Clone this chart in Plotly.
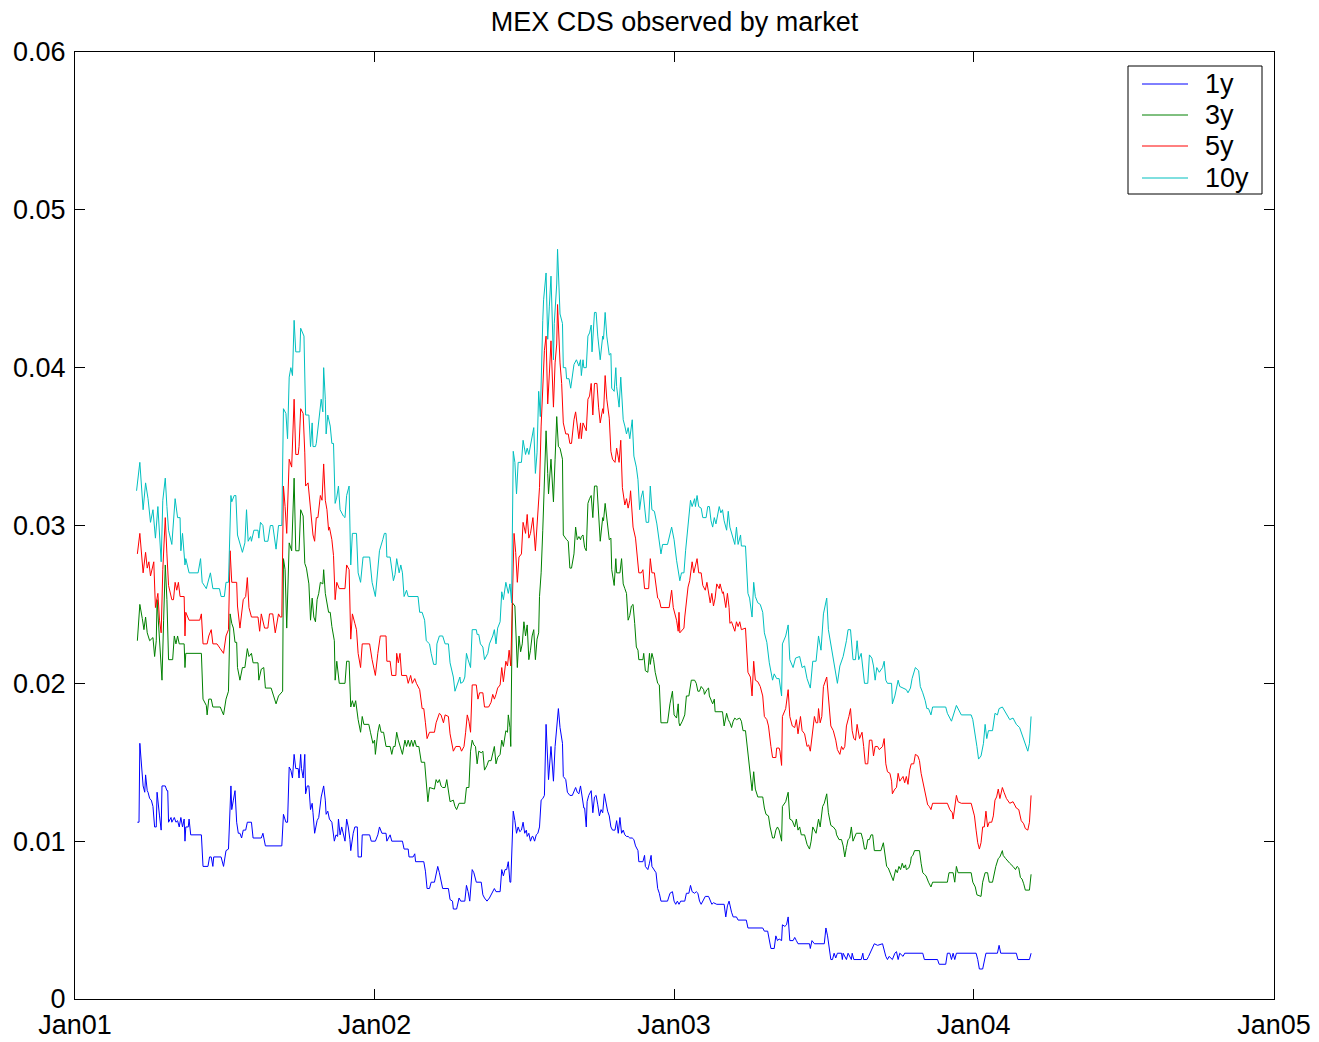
import pandas as pd
import plotly.graph_objects as go

# Observed MEX CDS spreads: (days since 2001-01-01, spread) for each tenor
base_date = "2001-01-01"

cds_1y = [
    (76, 0.0112), (78, 0.0112), (79, 0.0162), (81, 0.0151), (83, 0.0135), (85, 0.0131), (86, 0.0142),
    (88, 0.0132), (89, 0.0131), (91, 0.0127), (93, 0.0126), (95, 0.0122), (97, 0.0109), (99, 0.0109),
    (100, 0.0131), (103, 0.0116), (105, 0.0107), (106, 0.0135), (110, 0.0135), (112, 0.0132), (113, 0.0132),
    (114, 0.0112), (117, 0.0115), (118, 0.0112), (121, 0.0115), (123, 0.0112), (125, 0.0113), (127, 0.0109),
    (129, 0.0115), (131, 0.0109), (133, 0.0114), (134, 0.0100), (135, 0.0109), (138, 0.0109), (139, 0.0114),
    (141, 0.0104), (154, 0.0104), (156, 0.0084), (162, 0.0084), (164, 0.0090), (166, 0.0090), (168, 0.0084),
    (169, 0.0090), (178, 0.0090), (181, 0.0084), (184, 0.0094), (187, 0.0095), (190, 0.0135), (191, 0.0120),
    (193, 0.0126), (195, 0.0132), (197, 0.0112), (199, 0.0105), (201, 0.0105), (203, 0.0102), (205, 0.0107),
    (208, 0.0107), (210, 0.0112), (215, 0.0112), (217, 0.0102), (227, 0.0102), (229, 0.0105), (232, 0.0097),
    (252, 0.0097), (254, 0.0117), (257, 0.0112), (259, 0.0112), (261, 0.0147), (263, 0.0145), (265, 0.0140),
    (267, 0.0155), (269, 0.0146), (272, 0.0146), (273, 0.0140), (275, 0.0155), (276, 0.0146), (278, 0.0140),
    (280, 0.0155), (281, 0.0130), (283, 0.0135), (285, 0.0135), (287, 0.0120), (289, 0.0124), (290, 0.0118),
    (292, 0.0105), (295, 0.0113), (297, 0.0115), (300, 0.0128), (302, 0.0132), (303, 0.0135), (305, 0.0126),
    (306, 0.0117), (308, 0.0119), (310, 0.0114), (313, 0.0112), (315, 0.0105), (316, 0.0100), (318, 0.0104),
    (320, 0.0103), (321, 0.0114), (323, 0.0104), (325, 0.0109), (327, 0.0104), (329, 0.0100), (331, 0.0114),
    (333, 0.0109), (335, 0.0101), (336, 0.0094), (339, 0.0105), (341, 0.0109), (344, 0.0109), (345, 0.0090),
    (349, 0.0090), (350, 0.0104), (359, 0.0104), (361, 0.0100), (366, 0.0100), (369, 0.0104), (371, 0.0109),
    (374, 0.0105), (379, 0.0105), (380, 0.0100), (384, 0.0104), (386, 0.0100), (399, 0.0100), (401, 0.0095),
    (406, 0.0095), (407, 0.0090), (412, 0.0090), (414, 0.0092), (415, 0.0087), (425, 0.0087), (427, 0.0081),
    (429, 0.0070), (432, 0.0070), (434, 0.0074), (438, 0.0074), (440, 0.0080), (442, 0.0084), (444, 0.0080),
    (446, 0.0075), (448, 0.0070), (455, 0.0070), (457, 0.0063), (460, 0.0062), (461, 0.0057), (465, 0.0057),
    (467, 0.0062), (468, 0.0064), (470, 0.0062), (475, 0.0062), (477, 0.0072), (479, 0.0068), (481, 0.0062),
    (483, 0.0078), (484, 0.0082), (486, 0.0080), (489, 0.0074), (495, 0.0074), (497, 0.0066), (499, 0.0064),
    (502, 0.0062), (505, 0.0064), (507, 0.0066), (511, 0.0070), (513, 0.0068), (518, 0.0068), (520, 0.0082),
    (522, 0.0078), (524, 0.0082), (526, 0.0082), (528, 0.0087), (530, 0.0074), (531, 0.0074), (534, 0.0119),
    (536, 0.0113), (538, 0.0105), (540, 0.0109), (542, 0.0106), (544, 0.0107), (546, 0.0112), (548, 0.0105),
    (550, 0.0107), (551, 0.0103), (553, 0.0105), (555, 0.0100), (557, 0.0103), (558, 0.0103), (560, 0.0100),
    (562, 0.0104), (564, 0.0105), (566, 0.0109), (568, 0.0126), (570, 0.0127), (572, 0.0129), (574, 0.0174),
    (576, 0.0147), (577, 0.0139), (580, 0.0160), (583, 0.0138), (585, 0.0160), (587, 0.0173), (589, 0.0184),
    (591, 0.0172), (594, 0.0162), (595, 0.0141), (598, 0.0139), (600, 0.0131), (603, 0.0129), (606, 0.0129),
    (608, 0.0131), (610, 0.0134), (612, 0.0131), (614, 0.0130), (616, 0.0135), (619, 0.0125), (620, 0.0121),
    (621, 0.0121), (623, 0.0109), (624, 0.0125), (626, 0.0129), (629, 0.0132), (631, 0.0118), (633, 0.0128),
    (635, 0.0129), (637, 0.0123), (639, 0.0116), (641, 0.0120), (643, 0.0118), (645, 0.0130), (647, 0.0124),
    (649, 0.0119), (651, 0.0116), (653, 0.0109), (655, 0.0107), (658, 0.0107), (660, 0.0113), (662, 0.0105),
    (664, 0.0115), (666, 0.0105), (668, 0.0107), (670, 0.0104), (672, 0.0103), (674, 0.0103), (676, 0.0102),
    (679, 0.0102), (681, 0.0101), (683, 0.0097), (686, 0.0094), (687, 0.0087), (692, 0.0087), (694, 0.0091),
    (695, 0.0084), (698, 0.0082), (700, 0.0086), (702, 0.0091), (703, 0.0084), (706, 0.0082), (708, 0.0080),
    (710, 0.0070), (712, 0.0067), (714, 0.0062), (722, 0.0062), (725, 0.0067), (728, 0.0068), (730, 0.0062),
    (732, 0.0060), (734, 0.0062), (736, 0.0060), (738, 0.0062), (743, 0.0062), (745, 0.0067), (748, 0.0067),
    (750, 0.0072), (752, 0.0068), (755, 0.0067), (757, 0.0068), (759, 0.0067), (761, 0.0062), (763, 0.0060),
    (765, 0.0062), (768, 0.0065), (772, 0.0065), (774, 0.0062), (776, 0.0060), (778, 0.0061), (782, 0.0060),
    (791, 0.0060), (793, 0.0052), (795, 0.0059), (797, 0.0062), (800, 0.0055), (802, 0.0052), (806, 0.0052),
    (808, 0.0050), (818, 0.0050), (820, 0.0045), (838, 0.0045), (840, 0.0043), (844, 0.0043), (846, 0.0037),
    (848, 0.0032), (852, 0.0032), (854, 0.0040), (856, 0.0037), (858, 0.0038), (861, 0.0037), (862, 0.0047),
    (865, 0.0046), (867, 0.0047), (869, 0.0052), (871, 0.0037), (875, 0.0037), (877, 0.0039), (879, 0.0037),
    (881, 0.0035), (895, 0.0035), (896, 0.0032), (898, 0.0037), (901, 0.0035), (913, 0.0035), (915, 0.0045),
    (917, 0.0040), (919, 0.0032), (921, 0.0025), (923, 0.0025), (925, 0.0029), (927, 0.0026), (929, 0.0029),
    (934, 0.0029), (935, 0.0025), (936, 0.0029), (940, 0.0025), (942, 0.0029), (946, 0.0025), (947, 0.0029),
    (949, 0.0025), (958, 0.0025), (960, 0.0029), (961, 0.0025), (965, 0.0025), (967, 0.0027), (970, 0.0030),
    (972, 0.0032), (974, 0.0035), (978, 0.0034), (984, 0.0035), (988, 0.0027), (990, 0.0025), (992, 0.0027),
    (996, 0.0025), (999, 0.0029), (1001, 0.0030), (1003, 0.0025), (1005, 0.0029), (1009, 0.0027),
    (1011, 0.0029), (1033, 0.0029), (1035, 0.0025), (1051, 0.0025), (1053, 0.0022), (1061, 0.0022),
    (1063, 0.0029), (1066, 0.0029), (1068, 0.0025), (1070, 0.0029), (1072, 0.0025), (1074, 0.0029),
    (1098, 0.0029), (1100, 0.0025), (1102, 0.0019), (1106, 0.0019), (1108, 0.0025), (1110, 0.0029),
    (1124, 0.0029), (1126, 0.0034), (1128, 0.0029), (1147, 0.0029), (1149, 0.0025), (1163, 0.0025),
    (1165, 0.0029),
]

cds_3y = [
    (76, 0.0227), (79, 0.0250), (82, 0.0241), (84, 0.0234), (86, 0.0242), (88, 0.0232), (91, 0.0227),
    (95, 0.0229), (97, 0.0217), (99, 0.0227), (100, 0.0253), (103, 0.0230), (106, 0.0202), (108, 0.0240),
    (110, 0.0275), (112, 0.0253), (114, 0.0215), (119, 0.0215), (121, 0.0230), (123, 0.0225), (125, 0.0230),
    (127, 0.0225), (133, 0.0225), (134, 0.0210), (135, 0.0219), (154, 0.0219), (156, 0.0190), (160, 0.0186),
    (161, 0.0180), (163, 0.0190), (166, 0.0190), (168, 0.0185), (177, 0.0185), (181, 0.0180), (184, 0.0190),
    (187, 0.0195), (189, 0.0244), (191, 0.0238), (193, 0.0235), (195, 0.0226), (197, 0.0226), (198, 0.0210),
    (201, 0.0202), (204, 0.0210), (207, 0.0210), (210, 0.0222), (212, 0.0217), (215, 0.0219), (217, 0.0213),
    (223, 0.0213), (224, 0.0202), (227, 0.0209), (230, 0.0210), (232, 0.0197), (239, 0.0197), (242, 0.0192),
    (245, 0.0187), (248, 0.0192), (250, 0.0193), (253, 0.0195), (254, 0.0279), (256, 0.0272), (258, 0.0235),
    (261, 0.0289), (264, 0.0284), (267, 0.0330), (269, 0.0284), (273, 0.0284), (275, 0.0310), (278, 0.0306),
    (280, 0.0276), (282, 0.0273), (285, 0.0263), (287, 0.0240), (289, 0.0254), (291, 0.0242), (293, 0.0239),
    (295, 0.0253), (297, 0.0257), (299, 0.0264), (302, 0.0263), (303, 0.0272), (305, 0.0257), (307, 0.0250),
    (309, 0.0245), (311, 0.0245), (313, 0.0236), (316, 0.0227), (317, 0.0202), (319, 0.0214), (322, 0.0200),
    (329, 0.0200), (331, 0.0214), (334, 0.0214), (336, 0.0185), (338, 0.0189), (340, 0.0185), (342, 0.0189),
    (345, 0.0177), (348, 0.0169), (350, 0.0179), (352, 0.0174), (358, 0.0174), (360, 0.0169), (363, 0.0162),
    (365, 0.0164), (366, 0.0155), (369, 0.0169), (371, 0.0174), (373, 0.0169), (376, 0.0169), (379, 0.0160),
    (384, 0.0160), (386, 0.0155), (388, 0.0160), (390, 0.0160), (392, 0.0169), (394, 0.0164), (396, 0.0160),
    (399, 0.0155), (402, 0.0164), (404, 0.0160), (406, 0.0164), (408, 0.0160), (410, 0.0164), (412, 0.0160),
    (414, 0.0164), (416, 0.0160), (419, 0.0160), (422, 0.0150), (426, 0.0150), (428, 0.0136), (430, 0.0125),
    (432, 0.0134), (438, 0.0133), (440, 0.0139), (442, 0.0137), (444, 0.0139), (446, 0.0135), (448, 0.0134),
    (451, 0.0134), (453, 0.0139), (456, 0.0130), (457, 0.0125), (461, 0.0126), (463, 0.0122), (465, 0.0120),
    (468, 0.0124), (475, 0.0124), (477, 0.0134), (480, 0.0134), (482, 0.0157), (484, 0.0164), (486, 0.0161),
    (488, 0.0160), (490, 0.0149), (492, 0.0157), (495, 0.0156), (497, 0.0157), (499, 0.0145), (502, 0.0148),
    (504, 0.0151), (507, 0.0151), (509, 0.0155), (511, 0.0160), (513, 0.0149), (515, 0.0153), (518, 0.0155),
    (520, 0.0164), (522, 0.0160), (525, 0.0170), (527, 0.0169), (528, 0.0180), (530, 0.0172), (531, 0.0160),
    (533, 0.0251), (536, 0.0249), (539, 0.0210), (541, 0.0230), (543, 0.0220), (545, 0.0225), (547, 0.0239),
    (549, 0.0230), (551, 0.0237), (553, 0.0215), (555, 0.0221), (557, 0.0230), (559, 0.0234), (561, 0.0215),
    (563, 0.0228), (565, 0.0232), (566, 0.0255), (568, 0.0270), (570, 0.0297), (572, 0.0333), (574, 0.0360),
    (576, 0.0333), (577, 0.0320), (580, 0.0342), (583, 0.0315), (585, 0.0342), (587, 0.0369), (589, 0.0350),
    (591, 0.0349), (594, 0.0342), (595, 0.0294), (599, 0.0291), (601, 0.0290), (603, 0.0273), (605, 0.0273),
    (608, 0.0282), (610, 0.0299), (612, 0.0291), (614, 0.0293), (616, 0.0291), (617, 0.0293), (619, 0.0294),
    (621, 0.0286), (623, 0.0284), (625, 0.0314), (627, 0.0317), (629, 0.0319), (631, 0.0305), (633, 0.0325),
    (636, 0.0325), (638, 0.0306), (640, 0.0290), (643, 0.0305), (644, 0.0303), (646, 0.0314), (648, 0.0304),
    (651, 0.0291), (653, 0.0292), (654, 0.0272), (657, 0.0262), (659, 0.0279), (660, 0.0270), (664, 0.0270),
    (666, 0.0279), (668, 0.0263), (670, 0.0260), (672, 0.0257), (674, 0.0240), (676, 0.0243), (678, 0.0249),
    (680, 0.0250), (682, 0.0238), (684, 0.0223), (686, 0.0221), (687, 0.0215), (692, 0.0215), (693, 0.0219),
    (695, 0.0208), (698, 0.0207), (700, 0.0219), (701, 0.0212), (703, 0.0219), (705, 0.0215), (707, 0.0207),
    (710, 0.0200), (712, 0.0199), (714, 0.0175), (722, 0.0175), (725, 0.0187), (728, 0.0195), (730, 0.0180),
    (733, 0.0178), (735, 0.0187), (736, 0.0175), (737, 0.0173), (740, 0.0176), (743, 0.0180), (745, 0.0192),
    (748, 0.0192), (751, 0.0202), (755, 0.0202), (757, 0.0200), (759, 0.0195), (761, 0.0195), (763, 0.0198),
    (766, 0.0196), (767, 0.0193), (770, 0.0196), (772, 0.0197), (773, 0.0192), (775, 0.0190), (777, 0.0187),
    (779, 0.0190), (780, 0.0182), (789, 0.0182), (791, 0.0173), (794, 0.0181), (796, 0.0177), (798, 0.0175),
    (800, 0.0172), (802, 0.0176), (804, 0.0178), (806, 0.0177), (810, 0.0178), (812, 0.0176), (814, 0.0170),
    (817, 0.0170), (820, 0.0154), (823, 0.0138), (825, 0.0132), (827, 0.0144), (829, 0.0133), (832, 0.0128),
    (838, 0.0128), (840, 0.0121), (842, 0.0117), (845, 0.0116), (847, 0.0109), (850, 0.0102), (852, 0.0102),
    (854, 0.0107), (856, 0.0109), (858, 0.0107), (861, 0.0100), (862, 0.0122), (866, 0.0125), (869, 0.0131),
    (871, 0.0114), (874, 0.0113), (877, 0.0109), (879, 0.0114), (881, 0.0107), (883, 0.0109), (885, 0.0104),
    (889, 0.0104), (892, 0.0098), (895, 0.0095), (897, 0.0100), (899, 0.0109), (901, 0.0107), (903, 0.0105),
    (906, 0.0114), (908, 0.0109), (911, 0.0122), (913, 0.0124), (916, 0.0130), (918, 0.0118), (921, 0.0110),
    (924, 0.0109), (927, 0.0107), (928, 0.0104), (931, 0.0101), (934, 0.0101), (936, 0.0097), (938, 0.0090),
    (940, 0.0096), (942, 0.0101), (944, 0.0102), (946, 0.0109), (948, 0.0100), (952, 0.0105), (958, 0.0105),
    (960, 0.0101), (962, 0.0095), (964, 0.0095), (966, 0.0101), (968, 0.0101), (970, 0.0104), (972, 0.0104),
    (974, 0.0094), (982, 0.0094), (985, 0.0099), (987, 0.0090), (989, 0.0084), (991, 0.0083), (996, 0.0076),
    (997, 0.0075), (1000, 0.0082), (1002, 0.0080), (1004, 0.0084), (1006, 0.0082), (1008, 0.0086),
    (1010, 0.0083), (1012, 0.0085), (1013, 0.0082), (1016, 0.0083), (1018, 0.0086), (1019, 0.0090),
    (1021, 0.0091), (1023, 0.0094), (1029, 0.0094), (1031, 0.0086), (1033, 0.0080), (1035, 0.0079),
    (1037, 0.0078), (1040, 0.0074), (1043, 0.0071), (1045, 0.0074), (1063, 0.0074), (1065, 0.0080),
    (1070, 0.0080), (1072, 0.0074), (1073, 0.0080), (1074, 0.0084), (1076, 0.0080), (1092, 0.0080),
    (1094, 0.0074), (1097, 0.0071), (1099, 0.0066), (1104, 0.0065), (1106, 0.0074), (1109, 0.0080),
    (1112, 0.0080), (1114, 0.0074), (1118, 0.0074), (1120, 0.0080), (1122, 0.0084), (1125, 0.0089),
    (1127, 0.0090), (1130, 0.0094), (1131, 0.0091), (1134, 0.0089), (1137, 0.0087), (1139, 0.0086),
    (1143, 0.0084), (1146, 0.0082), (1148, 0.0084), (1150, 0.0083), (1152, 0.0077), (1154, 0.0076),
    (1156, 0.0073), (1158, 0.0069), (1163, 0.0069), (1165, 0.0079),
]

cds_5y = [
    (76, 0.0282), (79, 0.0295), (83, 0.0270), (86, 0.0283), (88, 0.0273), (90, 0.0277), (92, 0.0268),
    (96, 0.0277), (98, 0.0248), (101, 0.0257), (103, 0.0240), (105, 0.0232), (107, 0.0272), (110, 0.0305),
    (112, 0.0282), (114, 0.0262), (118, 0.0253), (120, 0.0253), (122, 0.0264), (124, 0.0259), (126, 0.0264),
    (128, 0.0255), (133, 0.0255), (134, 0.0230), (135, 0.0245), (139, 0.0240), (152, 0.0240), (154, 0.0244),
    (156, 0.0225), (161, 0.0225), (163, 0.0230), (166, 0.0234), (168, 0.0225), (173, 0.0225), (177, 0.0222),
    (181, 0.0219), (184, 0.0230), (187, 0.0234), (189, 0.0284), (191, 0.0264), (197, 0.0264), (198, 0.0249),
    (201, 0.0235), (205, 0.0253), (208, 0.0255), (210, 0.0267), (212, 0.0248), (215, 0.0242), (223, 0.0242),
    (225, 0.0233), (227, 0.0244), (231, 0.0235), (235, 0.0235), (237, 0.0244), (241, 0.0244), (244, 0.0232),
    (248, 0.0244), (250, 0.0242), (252, 0.0242), (254, 0.0325), (256, 0.0312), (258, 0.0295), (261, 0.0342),
    (264, 0.0337), (267, 0.0380), (269, 0.0345), (272, 0.0345), (273, 0.0350), (275, 0.0374), (278, 0.0371),
    (280, 0.0346), (281, 0.0325), (284, 0.0327), (286, 0.0316), (288, 0.0305), (290, 0.0294), (292, 0.0290),
    (294, 0.0305), (296, 0.0305), (299, 0.0319), (301, 0.0316), (303, 0.0339), (305, 0.0316), (307, 0.0310),
    (309, 0.0297), (310, 0.0299), (313, 0.0291), (315, 0.0281), (317, 0.0253), (319, 0.0264), (322, 0.0260),
    (329, 0.0260), (331, 0.0275), (334, 0.0272), (336, 0.0228), (338, 0.0244), (341, 0.0238), (343, 0.0234),
    (345, 0.0219), (348, 0.0210), (350, 0.0225), (359, 0.0225), (362, 0.0215), (366, 0.0205), (369, 0.0219),
    (372, 0.0230), (379, 0.0230), (380, 0.0214), (384, 0.0214), (386, 0.0205), (391, 0.0205), (392, 0.0219),
    (394, 0.0213), (396, 0.0219), (398, 0.0205), (404, 0.0205), (406, 0.0200), (409, 0.0205), (411, 0.0200),
    (414, 0.0203), (416, 0.0200), (420, 0.0196), (423, 0.0184), (425, 0.0184), (427, 0.0175), (429, 0.0165),
    (432, 0.0169), (438, 0.0169), (440, 0.0175), (444, 0.0181), (446, 0.0180), (449, 0.0175), (451, 0.0180),
    (455, 0.0179), (457, 0.0168), (459, 0.0161), (461, 0.0157), (464, 0.0160), (469, 0.0160), (471, 0.0157),
    (474, 0.0160), (476, 0.0169), (478, 0.0180), (480, 0.0176), (482, 0.0169), (484, 0.0199), (489, 0.0199),
    (491, 0.0190), (493, 0.0194), (497, 0.0194), (499, 0.0185), (504, 0.0185), (507, 0.0188), (509, 0.0193),
    (511, 0.0190), (513, 0.0193), (515, 0.0197), (518, 0.0199), (520, 0.0210), (522, 0.0201), (525, 0.0214),
    (527, 0.0211), (529, 0.0221), (531, 0.0211), (533, 0.0249), (535, 0.0295), (537, 0.0283), (539, 0.0264),
    (541, 0.0280), (544, 0.0282), (546, 0.0302), (548, 0.0297), (549, 0.0295), (551, 0.0307), (553, 0.0292),
    (555, 0.0295), (558, 0.0305), (561, 0.0284), (564, 0.0306), (566, 0.0324), (568, 0.0363), (570, 0.0390),
    (572, 0.0411), (574, 0.0420), (576, 0.0377), (578, 0.0396), (580, 0.0417), (583, 0.0375), (585, 0.0403),
    (587, 0.0415), (588, 0.0440), (591, 0.0403), (593, 0.0390), (595, 0.0365), (598, 0.0358), (601, 0.0358),
    (603, 0.0352), (605, 0.0352), (608, 0.0367), (610, 0.0372), (612, 0.0364), (614, 0.0355), (616, 0.0365),
    (617, 0.0355), (619, 0.0365), (621, 0.0362), (623, 0.0360), (625, 0.0380), (627, 0.0382), (629, 0.0390),
    (631, 0.0370), (633, 0.0390), (636, 0.0390), (638, 0.0375), (640, 0.0365), (643, 0.0374), (644, 0.0371),
    (646, 0.0395), (648, 0.0380), (651, 0.0368), (653, 0.0347), (655, 0.0342), (658, 0.0340), (660, 0.0349),
    (662, 0.0344), (663, 0.0340), (665, 0.0354), (667, 0.0324), (670, 0.0313), (672, 0.0317), (674, 0.0311),
    (676, 0.0316), (677, 0.0322), (680, 0.0299), (683, 0.0292), (685, 0.0282), (687, 0.0270), (690, 0.0270),
    (692, 0.0272), (694, 0.0260), (699, 0.0260), (701, 0.0279), (703, 0.0270), (706, 0.0270), (708, 0.0261),
    (710, 0.0254), (712, 0.0253), (714, 0.0248), (724, 0.0248), (727, 0.0259), (729, 0.0248), (733, 0.0240),
    (735, 0.0233), (736, 0.0245), (737, 0.0232), (742, 0.0235), (743, 0.0242), (745, 0.0253), (747, 0.0261),
    (749, 0.0265), (752, 0.0277), (754, 0.0270), (756, 0.0274), (758, 0.0279), (760, 0.0270), (763, 0.0270),
    (765, 0.0262), (768, 0.0259), (770, 0.0264), (772, 0.0257), (774, 0.0251), (776, 0.0257), (778, 0.0249),
    (780, 0.0254), (782, 0.0263), (785, 0.0260), (786, 0.0263), (789, 0.0257), (790, 0.0258), (793, 0.0248),
    (795, 0.0257), (797, 0.0248), (798, 0.0238), (800, 0.0239), (802, 0.0236), (804, 0.0233), (806, 0.0239),
    (808, 0.0236), (810, 0.0239), (812, 0.0234), (817, 0.0235), (820, 0.0207), (823, 0.0204), (825, 0.0192),
    (827, 0.0214), (829, 0.0202), (832, 0.0201), (835, 0.0198), (838, 0.0192), (840, 0.0179), (843, 0.0177),
    (845, 0.0173), (848, 0.0160), (850, 0.0153), (854, 0.0153), (855, 0.0159), (858, 0.0159), (859, 0.0157),
    (861, 0.0148), (862, 0.0179), (866, 0.0184), (869, 0.0196), (871, 0.0179), (874, 0.0173), (877, 0.0172),
    (879, 0.0177), (881, 0.0168), (884, 0.0179), (886, 0.0170), (889, 0.0168), (892, 0.0160), (894, 0.0161),
    (896, 0.0157), (899, 0.0173), (901, 0.0179), (903, 0.0175), (905, 0.0175), (906, 0.0184), (908, 0.0175),
    (910, 0.0179), (912, 0.0198), (916, 0.0204), (919, 0.0183), (921, 0.0173), (924, 0.0170), (927, 0.0164),
    (929, 0.0158), (932, 0.0155), (934, 0.0160), (936, 0.0158), (938, 0.0160), (940, 0.0173), (943, 0.0179),
    (945, 0.0184), (947, 0.0170), (949, 0.0165), (951, 0.0164), (953, 0.0174), (956, 0.0165), (959, 0.0169),
    (961, 0.0160), (963, 0.0149), (966, 0.0149), (968, 0.0164), (971, 0.0164), (973, 0.0154), (975, 0.0160),
    (978, 0.0160), (980, 0.0158), (984, 0.0160), (986, 0.0165), (988, 0.0149), (990, 0.0144), (993, 0.0143),
    (995, 0.0138), (996, 0.0130), (999, 0.0133), (1001, 0.0134), (1003, 0.0143), (1005, 0.0138),
    (1009, 0.0141), (1011, 0.0137), (1013, 0.0141), (1015, 0.0136), (1017, 0.0145), (1019, 0.0149),
    (1022, 0.0149), (1024, 0.0155), (1027, 0.0154), (1029, 0.0151), (1031, 0.0143), (1033, 0.0138),
    (1036, 0.0130), (1039, 0.0123), (1041, 0.0122), (1043, 0.0120), (1045, 0.0124), (1063, 0.0124),
    (1066, 0.0120), (1069, 0.0118), (1070, 0.0114), (1073, 0.0124), (1074, 0.0129), (1076, 0.0125),
    (1080, 0.0124), (1092, 0.0124), (1094, 0.0120), (1096, 0.0116), (1098, 0.0107), (1100, 0.0099),
    (1102, 0.0095), (1104, 0.0099), (1106, 0.0109), (1108, 0.0109), (1110, 0.0119), (1112, 0.0109),
    (1114, 0.0112), (1117, 0.0112), (1119, 0.0116), (1121, 0.0126), (1123, 0.0128), (1125, 0.0133),
    (1127, 0.0127), (1130, 0.0134), (1132, 0.0131), (1135, 0.0127), (1139, 0.0124), (1143, 0.0125),
    (1147, 0.0121), (1150, 0.0120), (1153, 0.0113), (1156, 0.0111), (1158, 0.0108), (1161, 0.0107),
    (1163, 0.0112), (1165, 0.0129),
]

cds_10y = [
    (75, 0.0322), (79, 0.0340), (83, 0.0310), (86, 0.0327), (89, 0.0317), (92, 0.0302), (95, 0.0310),
    (98, 0.0292), (101, 0.0312), (105, 0.0277), (107, 0.0316), (110, 0.0330), (112, 0.0312), (114, 0.0297),
    (118, 0.0288), (119, 0.0297), (122, 0.0317), (125, 0.0305), (128, 0.0305), (129, 0.0284), (131, 0.0295),
    (134, 0.0275), (135, 0.0279), (139, 0.0270), (150, 0.0270), (153, 0.0279), (155, 0.0264), (160, 0.0260),
    (162, 0.0264), (165, 0.0270), (168, 0.0260), (176, 0.0260), (178, 0.0255), (182, 0.0255), (184, 0.0264),
    (187, 0.0264), (190, 0.0319), (191, 0.0315), (194, 0.0319), (196, 0.0319), (198, 0.0294), (201, 0.0289),
    (204, 0.0283), (207, 0.0289), (209, 0.0310), (211, 0.0290), (214, 0.0293), (215, 0.0290), (218, 0.0297),
    (223, 0.0297), (224, 0.0292), (226, 0.0302), (229, 0.0300), (231, 0.0290), (235, 0.0290), (238, 0.0300),
    (241, 0.0300), (245, 0.0285), (248, 0.0300), (252, 0.0300), (254, 0.0374), (257, 0.0371), (259, 0.0355),
    (261, 0.0394), (263, 0.0400), (265, 0.0395), (267, 0.0430), (269, 0.0410), (274, 0.0410), (275, 0.0425),
    (279, 0.0420), (281, 0.0370), (285, 0.0370), (287, 0.0350), (289, 0.0365), (290, 0.0350), (293, 0.0350),
    (294, 0.0352), (297, 0.0365), (300, 0.0380), (302, 0.0372), (303, 0.0400), (305, 0.0380), (306, 0.0358),
    (308, 0.0370), (311, 0.0363), (313, 0.0352), (315, 0.0352), (317, 0.0314), (319, 0.0318), (321, 0.0325),
    (323, 0.0310), (327, 0.0306), (329, 0.0305), (331, 0.0319), (334, 0.0325), (336, 0.0275), (338, 0.0295),
    (343, 0.0295), (345, 0.0270), (348, 0.0264), (351, 0.0280), (359, 0.0280), (362, 0.0264), (366, 0.0255),
    (369, 0.0274), (371, 0.0284), (375, 0.0291), (377, 0.0295), (379, 0.0295), (380, 0.0280), (384, 0.0280),
    (388, 0.0265), (390, 0.0269), (392, 0.0279), (395, 0.0270), (397, 0.0275), (399, 0.0270), (401, 0.0255),
    (404, 0.0259), (406, 0.0255), (418, 0.0255), (420, 0.0245), (423, 0.0245), (426, 0.0240), (428, 0.0227),
    (432, 0.0225), (434, 0.0219), (437, 0.0212), (440, 0.0212), (441, 0.0225), (444, 0.0230), (448, 0.0230),
    (451, 0.0225), (455, 0.0225), (457, 0.0213), (461, 0.0204), (463, 0.0195), (466, 0.0200), (469, 0.0204),
    (470, 0.0200), (473, 0.0201), (475, 0.0204), (477, 0.0219), (479, 0.0215), (482, 0.0210), (484, 0.0234),
    (486, 0.0234), (489, 0.0234), (490, 0.0231), (492, 0.0231), (494, 0.0225), (497, 0.0223), (499, 0.0215),
    (503, 0.0219), (505, 0.0225), (507, 0.0227), (509, 0.0230), (511, 0.0234), (513, 0.0225), (515, 0.0235),
    (518, 0.0239), (520, 0.0258), (522, 0.0253), (525, 0.0264), (528, 0.0257), (530, 0.0263), (532, 0.0251),
    (534, 0.0347), (536, 0.0340), (538, 0.0320), (540, 0.0340), (544, 0.0340), (546, 0.0354), (549, 0.0345),
    (551, 0.0349), (553, 0.0345), (556, 0.0354), (559, 0.0362), (561, 0.0333), (563, 0.0346), (565, 0.0385),
    (567, 0.0369), (570, 0.0430), (571, 0.0443), (574, 0.0460), (576, 0.0418), (578, 0.0439), (580, 0.0458),
    (583, 0.0405), (584, 0.0428), (587, 0.0453), (588, 0.0475), (591, 0.0434), (594, 0.0428), (595, 0.0400),
    (598, 0.0400), (599, 0.0393), (602, 0.0393), (604, 0.0387), (608, 0.0402), (611, 0.0405), (614, 0.0401),
    (616, 0.0405), (617, 0.0395), (619, 0.0405), (620, 0.0400), (623, 0.0400), (625, 0.0420), (627, 0.0422),
    (629, 0.0427), (630, 0.0410), (633, 0.0435), (635, 0.0435), (637, 0.0420), (640, 0.0405), (643, 0.0420),
    (644, 0.0418), (646, 0.0435), (648, 0.0420), (651, 0.0408), (653, 0.0409), (654, 0.0387), (657, 0.0385),
    (659, 0.0400), (660, 0.0388), (663, 0.0375), (665, 0.0394), (668, 0.0367), (670, 0.0363), (672, 0.0358),
    (674, 0.0362), (676, 0.0355), (679, 0.0367), (681, 0.0344), (684, 0.0337), (686, 0.0329), (688, 0.0310),
    (690, 0.0318), (692, 0.0322), (694, 0.0312), (696, 0.0302), (699, 0.0302), (701, 0.0325), (703, 0.0310),
    (706, 0.0309), (709, 0.0301), (711, 0.0294), (714, 0.0282), (716, 0.0288), (722, 0.0288), (727, 0.0299),
    (730, 0.0291), (733, 0.0278), (735, 0.0272), (737, 0.0265), (739, 0.0270), (742, 0.0270), (744, 0.0284),
    (746, 0.0295), (748, 0.0303), (750, 0.0316), (752, 0.0312), (755, 0.0317), (756, 0.0312), (758, 0.0319),
    (760, 0.0312), (763, 0.0311), (765, 0.0305), (769, 0.0305), (771, 0.0312), (773, 0.0312), (775, 0.0303),
    (777, 0.0299), (779, 0.0305), (781, 0.0301), (785, 0.0312), (787, 0.0308), (789, 0.0310), (791, 0.0303),
    (794, 0.0297), (796, 0.0309), (798, 0.0299), (800, 0.0295), (802, 0.0291), (804, 0.0288), (806, 0.0299),
    (808, 0.0288), (811, 0.0294), (812, 0.0287), (817, 0.0287), (820, 0.0257), (822, 0.0254), (825, 0.0242),
    (827, 0.0264), (829, 0.0255), (832, 0.0251), (835, 0.0250), (838, 0.0245), (840, 0.0232), (843, 0.0226),
    (846, 0.0213), (850, 0.0202), (852, 0.0206), (855, 0.0203), (858, 0.0203), (861, 0.0192), (862, 0.0225),
    (866, 0.0230), (869, 0.0237), (871, 0.0215), (875, 0.0210), (878, 0.0216), (883, 0.0217), (886, 0.0210),
    (889, 0.0211), (892, 0.0203), (896, 0.0197), (899, 0.0214), (903, 0.0214), (906, 0.0230), (909, 0.0221),
    (912, 0.0244), (916, 0.0254), (918, 0.0234), (923, 0.0219), (928, 0.0203), (929, 0.0200), (932, 0.0211),
    (936, 0.0217), (940, 0.0227), (942, 0.0234), (945, 0.0234), (948, 0.0215), (951, 0.0215), (953, 0.0227),
    (955, 0.0215), (958, 0.0219), (962, 0.0200), (966, 0.0200), (968, 0.0218), (971, 0.0216), (973, 0.0211),
    (975, 0.0202), (977, 0.0210), (980, 0.0207), (984, 0.0210), (986, 0.0214), (988, 0.0202), (990, 0.0200),
    (995, 0.0200), (996, 0.0187), (999, 0.0192), (1001, 0.0197), (1003, 0.0202), (1005, 0.0198),
    (1009, 0.0197), (1013, 0.0196), (1015, 0.0194), (1018, 0.0197), (1020, 0.0203), (1024, 0.0210),
    (1028, 0.0208), (1030, 0.0198), (1033, 0.0194), (1036, 0.0189), (1038, 0.0184), (1040, 0.0184),
    (1043, 0.0180), (1045, 0.0185), (1061, 0.0185), (1063, 0.0181), (1068, 0.0176), (1074, 0.0186),
    (1080, 0.0180), (1092, 0.0180), (1094, 0.0177), (1097, 0.0168), (1099, 0.0160), (1101, 0.0152),
    (1104, 0.0154), (1107, 0.0162), (1109, 0.0174), (1111, 0.0165), (1113, 0.0170), (1118, 0.0170),
    (1121, 0.0181), (1124, 0.0180), (1126, 0.0184), (1130, 0.0185), (1135, 0.0181), (1139, 0.0177),
    (1143, 0.0178), (1147, 0.0174), (1151, 0.0172), (1155, 0.0166), (1158, 0.0162), (1161, 0.0157),
    (1163, 0.0162), (1165, 0.0179),
]

series_names = ["1y", "3y", "5y", "10y"]
series_colors = ["#0000ff", "#008000", "#ff0000", "#00bfbf"]
series_data = [cds_1y, cds_3y, cds_5y, cds_10y]

x_tick_dates = ["2001-01-01", "2002-01-01", "2003-01-01", "2004-01-01", "2005-01-01"]
x_tick_labels = ["Jan01", "Jan02", "Jan03", "Jan04", "Jan05"]
y_tick_values = [0, 0.01, 0.02, 0.03, 0.04, 0.05, 0.06]
y_tick_labels = ["0", "0.01", "0.02", "0.03", "0.04", "0.05", "0.06"]

FONT = "Liberation Sans, Arial, Helvetica, sans-serif"
FONT_SIZE = 27

# Figure geometry (pixels)
W, H = 1319, 1042
M_L, M_R, M_T, M_B = 75, 45, 52, 43
plot_w = W - M_L - M_R
plot_h = H - M_T - M_B


def px_to_paper_x(px):
    return (px - M_L) / plot_w


def px_to_paper_y(py):
    return (H - M_B - py) / plot_h


fig = go.Figure()
start = pd.Timestamp(base_date)
for name, color, pairs in zip(series_names, series_colors, series_data):
    days = [p[0] for p in pairs]
    vals = [p[1] for p in pairs]
    dates = start + pd.to_timedelta(days, unit="D")
    fig.add_trace(go.Scatter(x=dates, y=vals, mode="lines", name=name, showlegend=False,
                             line=dict(color=color, width=1)))

axis_style = dict(showline=True, linecolor="black", linewidth=1, mirror="ticks",
                  ticks="inside", ticklen=10, tickcolor="black", tickwidth=1,
                  showgrid=False, zeroline=False, automargin=False,
                  tickfont=dict(family=FONT, size=FONT_SIZE, color="black"))

fig.update_xaxes(type="date", range=[x_tick_dates[0], x_tick_dates[-1]],
                 tickmode="array", tickvals=x_tick_dates, ticktext=x_tick_labels,
                 ticklabelstandoff=2, **axis_style)
fig.update_yaxes(range=[0, 0.06], tickmode="array", tickvals=y_tick_values,
                 ticktext=y_tick_labels, ticklabelstandoff=3, **axis_style)

# Boxed legend in the upper right corner, MATLAB style
box_left, box_right, box_top, box_bottom = 1128, 1262, 66, 194
sample_x0, sample_x1, label_x = 1142, 1188, 1203
entry_y = [84, 115, 146, 178]

shapes = [dict(type="rect", xref="paper", yref="paper",
               x0=px_to_paper_x(box_left), x1=px_to_paper_x(box_right),
               y0=px_to_paper_y(box_bottom), y1=px_to_paper_y(box_top),
               line=dict(color="black", width=1), fillcolor="white", layer="above")]
annotations = []
for name, color, ey in zip(series_names, series_colors, entry_y):
    shapes.append(dict(type="line", xref="paper", yref="paper",
                       x0=px_to_paper_x(sample_x0), x1=px_to_paper_x(sample_x1),
                       y0=px_to_paper_y(ey), y1=px_to_paper_y(ey),
                       line=dict(color=color, width=1), layer="above"))
    annotations.append(dict(text=name, xref="paper", yref="paper",
                            x=px_to_paper_x(label_x), y=px_to_paper_y(ey),
                            xanchor="left", yanchor="middle", showarrow=False,
                            font=dict(family=FONT, size=FONT_SIZE, color="black")))

fig.update_layout(
    width=W, height=H,
    margin=dict(l=M_L, r=M_R, t=M_T, b=M_B),
    paper_bgcolor="white", plot_bgcolor="white",
    font=dict(family=FONT, size=FONT_SIZE, color="black"),
    title=dict(text="MEX CDS observed by market", x=0.5, xref="paper", xanchor="center",
               y=1 - 22 / H, yref="container", yanchor="middle",
               font=dict(family=FONT, size=FONT_SIZE, color="black")),
    shapes=shapes,
    annotations=annotations,
    showlegend=False,
)

fig.write_html("out.html")
